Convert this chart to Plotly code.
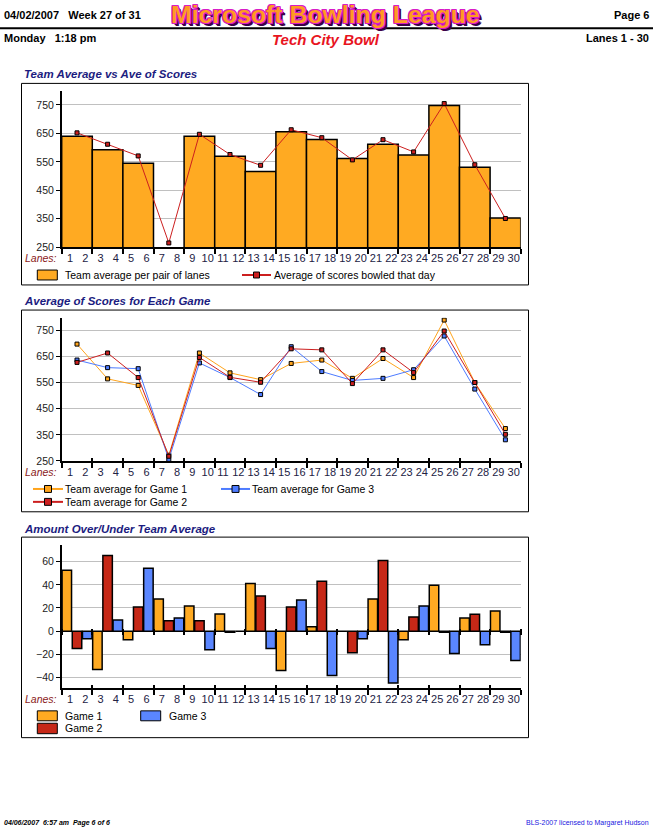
import plotly.graph_objects as go

W, H = 653, 835
def px(x): return x / W
def py(y): return 1 - y / H

FONT = "Arial, 'Liberation Sans', sans-serif"

# ---------------- data ----------------
pairs = list(range(15))                       # pair index (lanes 1-2 ... 29-30)
lane_labels = [str(i) for i in range(1, 31)]

team_avg = [640, 593, 545, None, 640, 570, 516, 656, 629, 562, 612, 574, 748, 531, 353]
day_avg = [652, 612, 571, 265, 647, 576, 538, 663, 635, 557, 628, 585, 755, 540, 351]

game1 = [697, 564, 539, 272, 663, 587, 561, 623, 636, 566, 642, 569, 789, 550, 374]
game2 = [627, 663, 569, 268, 646, 570, 551, 679, 675, 546, 675, 588, 747, 550, 352]
game3 = [636, 607, 603, 256, 625, 569, 504, 687, 592, 558, 566, 599, 728, 525, 331]

diff1 = [52.6, -33.1, -7.4, 27.7, 21.7, 14.9, 41.1, -34.0, 3.7, 0.0, 27.7, -7.4, 39.7, 11.4, 17.4]
diff2 = [-15.1, 65.4, 20.9, 8.9, 8.9, -1.0, 30.3, 20.9, 43.1, -18.6, 61.1, 12.3, -1.0, 14.6, -1.0]
diff3 = [-6.6, 9.7, 54.3, 11.4, -16.0, 0.0, -15.1, 26.9, -38.3, -6.6, -44.9, 21.7, -19.4, -11.7, -25.4]

score_ticks = [250, 350, 450, 550, 650, 750]
diff_ticks = [-40, -20, 0, 20, 40, 60]

ORANGE = "#FFAA22"
RED = "#C62817"
BLUE = "#5A86FF"
LINE_RED = "#CC1F1F"
LINE_ORANGE = "#FFA41C"
LINE_BLUE = "#4D7BFF"
NAVY = "#1C1C80"

centers = [p + 0.5 for p in pairs]
bounds = list(range(16))
lane_pos = []
for p in pairs:
    lane_pos += [p + 0.27, p + 0.77]

fig = go.Figure()

# ---- chart 1 ----
fig.add_trace(go.Bar(x=pairs, y=team_avg, offset=0, width=1, marker=dict(color=ORANGE, line=dict(color="black", width=1.5)),
                     xaxis="x", yaxis="y", showlegend=False))
fig.add_trace(go.Scatter(x=centers, y=day_avg, mode="lines+markers", line=dict(color=LINE_RED, width=1),
                         marker=dict(symbol="square", size=4, color=LINE_RED, line=dict(color="black", width=1)),
                         xaxis="x", yaxis="y", showlegend=False))

# ---- chart 2 ----
for g, c in [(game1, LINE_ORANGE), (game3, LINE_BLUE), (game2, LINE_RED)]:
    fig.add_trace(go.Scatter(x=centers, y=g, mode="lines+markers", line=dict(color=c, width=1),
                             marker=dict(symbol="square", size=4, color=c, line=dict(color="black", width=1)),
                             xaxis="x2", yaxis="y2", showlegend=False))

# ---- chart 3 ----
for k, (d, c) in enumerate([(diff1, ORANGE), (diff2, RED), (diff3, BLUE)]):
    fig.add_trace(go.Bar(x=pairs, y=d, offset=k / 3 + 0.012, width=0.31,
                         marker=dict(color=c, line=dict(color="black", width=1.5)),
                         xaxis="x3", yaxis="y3", showlegend=False))

# empty traces to materialise the overlay tick axes
for xa, ya in [("x4", "y2"), ("x5", "y3"), ("x6", "y3")]:
    fig.add_trace(go.Scatter(x=[None], y=[None], xaxis=xa, yaxis=ya, showlegend=False, hoverinfo="skip"))

xdom = [px(61.7), px(520.7)]
def xax(anchor):
    return dict(domain=xdom, range=[0, 15], anchor=anchor, showgrid=False, zeroline=False,
                showline=True, linecolor="black", linewidth=1.5,
                tickmode="array", tickvals=lane_pos, ticktext=lane_labels, ticks="",
                tickfont=dict(family=FONT, size=11, color="#222244"),
                minor=dict(tickmode="array", tickvals=bounds, ticks="outside", ticklen=5,
                           tickcolor="black", tickwidth=1.5, showgrid=False),
                fixedrange=True)

def tickax(over, anchor, ticks, ticklen, position=None):
    d = dict(overlaying=over, range=[0, 15], anchor=anchor, showgrid=False, zeroline=False, showline=False,
             tickmode="array", tickvals=bounds, ticks=ticks, ticklen=ticklen, tickcolor="black",
             tickwidth=1.5, showticklabels=False, fixedrange=True)
    if position is not None:
        d["position"] = position
    return d

def yax(anchor, dom, rng, tv):
    return dict(domain=dom, range=rng, anchor=anchor, showline=True, linecolor="black", linewidth=1.5,
                tickmode="array", tickvals=tv, ticks="outside", ticklen=4, tickcolor="black",
                showgrid=True, gridcolor="#C0C0C0", gridwidth=1, zeroline=False,
                tickfont=dict(family=FONT, size=10.5, color="#222"), fixedrange=True)

fig.update_layout(
    width=W, height=H, margin=dict(l=0, r=0, t=0, b=0),
    paper_bgcolor="white", plot_bgcolor="white", barmode="overlay", showlegend=False,
    xaxis=xax("y"), yaxis=yax("x", [py(249), py(92)], [250, 798], score_ticks),
    xaxis2=xax("y2"), yaxis2=yax("x2", [py(464.3), py(320)], [250, 798], score_ticks),
    xaxis3=xax("y3"), yaxis3=yax("x3", [py(693.3), py(549.3)], [-49.4, 74.1], diff_ticks),
    xaxis4=tickax("x2", "y2", "inside", 3),
    xaxis5=tickax("x3", "y3", "inside", 3),
    xaxis6=tickax("x3", "free", "outside", 6, position=py(633)),
)

ann = []
shapes = []

def text(x, y, s, size=11, color="black", bold=False, italic=False, xanchor="left", **kw):
    t = s
    if bold:
        t = "<b>" + t + "</b>"
    if italic:
        t = "<i>" + t + "</i>"
    d = dict(x=px(x), y=py(y), xref="paper", yref="paper", text=t, showarrow=False,
             xanchor=xanchor, yanchor="middle", font=dict(family=FONT, size=size, color=color))
    d.update(kw)
    ann.append(d)

# header
text(2, 15, "04/02/2007&nbsp;&nbsp;&nbsp;Week 27 of 31", size=11, bold=True)
text(651, 15, "Page 6", size=11, bold=True, xanchor="right")
text(2, 38, "Monday&nbsp;&nbsp;&nbsp;1:18 pm", size=11, bold=True)
text(651, 38, "Lanes 1 - 30", size=11, bold=True, xanchor="right")
text(326, 40, "Tech City Bowl", size=15, color="#E8141E", bold=True, italic=True, xanchor="center")
oc = "#D81CC8"
sh = "#3C0048"
ann.append(dict(x=px(325), y=py(15), xref="paper", yref="paper", text="<b>Microsoft Bowling League</b>",
                showarrow=False, xanchor="center", yanchor="middle",
                font=dict(family=FONT, size=24.8, color="#FF9A22",
                          shadow=f"1px 0 0 {oc}, -1px 0 0 {oc}, 0 1px 0 {oc}, 0 -1px 0 {oc}, 1px 1px 0 {oc}, -1px -1px 0 {oc}, 1px -1px 0 {oc}, -1px 1px 0 {oc}, 2px 2px 0 {sh}, 3px 3px 0 {sh}")))
shapes.append(dict(type="line", xref="paper", yref="paper", x0=0, x1=1, y0=py(28.5), y1=py(28.5),
                   line=dict(color="black", width=2)))

# section titles & boxes
for ty, title, b0, b1 in [(75, "Team Average vs Ave of Scores", 84, 287),
                          (303, "Average of Scores for Each Game", 312.3, 515.5),
                          (533, "Amount Over/Under Team Average", 541, 743)]:
    text(21.5, ty, title, size=11.5, color=NAVY, bold=True, italic=True)
    shapes.append(dict(type="rect", xref="paper", yref="paper", x0=px(21.5), x1=px(528.5), y0=py(b1), y1=py(b0),
                       line=dict(color="black", width=1), fillcolor="rgba(0,0,0,0)", layer="below"))

# "Lanes:" labels
for ly in [260, 475.5, 704.3]:
    text(59, ly, "Lanes:", size=10.5, color="#8B1A1A", italic=True, xanchor="right")

def swatch(x0, y0, x1, y1, color):
    shapes.append(dict(type="rect", xref="paper", yref="paper", x0=px(x0), x1=px(x1), y0=py(y1), y1=py(y0),
                       fillcolor=color, line=dict(color="black", width=1)))

def linekey(x0, x1, y, color, msize=6):
    shapes.append(dict(type="line", xref="paper", yref="paper", x0=px(x0), x1=px(x1), y0=py(y), y1=py(y),
                       line=dict(color=color, width=2)))
    xm = (x0 + x1) / 2
    swatch(xm - msize / 2, y - msize / 2, xm + msize / 2, y + msize / 2, color)

# chart 1 legend
swatch(37.3, 272, 57.3, 282, ORANGE)
text(63, 277, "Team average per pair of lanes", size=10.5)
linekey(242, 271, 277, LINE_RED)
text(272, 277, "Average of scores bowled that day", size=10.5)

# chart 2 legend
linekey(33, 63, 492.5, LINE_ORANGE, 7)
text(63, 492.5, "Team average for Game 1", size=10.5)
linekey(221, 250, 492.5, LINE_BLUE, 7)
text(250, 492.5, "Team average for Game 3", size=10.5)
linekey(33, 63, 505.5, LINE_RED, 7)
text(63, 505.5, "Team average for Game 2", size=10.5)

# chart 3 legend
swatch(37.3, 716, 57.3, 726, ORANGE)
text(63, 721, "Game 1", size=10.5)
swatch(140.7, 716, 160.7, 726, BLUE)
text(167, 721, "Game 3", size=10.5)
swatch(37.3, 728.5, 57.3, 739, RED)
text(63, 733.5, "Game 2", size=10.5)

# footer
text(2, 829, "04/06/2007&nbsp;&nbsp;6:57 am&nbsp;&nbsp;Page 6 of 6", size=7, bold=True, italic=True)
text(651, 829, "BLS-2007 licensed to Margaret Hudson", size=7, color="#2020E0", xanchor="right")

fig.update_layout(annotations=ann, shapes=shapes)
fig.write_html("out.html",
               post_script="document.body.style.margin='0';document.body.style.overflow='hidden';"
                           "document.documentElement.style.overflow='hidden';")
